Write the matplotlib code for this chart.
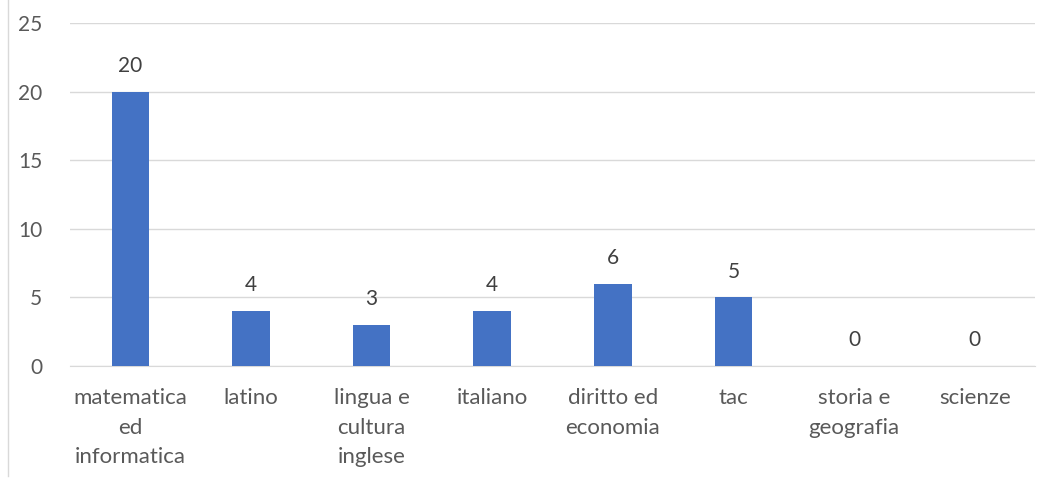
import matplotlib.pyplot as plt
import matplotlib.lines as mlines

plt.rcParams['font.family'] = ['Lato', 'DejaVu Sans']

categories = ['matematica\ned\ninformatica', 'latino', 'lingua e\ncultura\ninglese',
              'italiano', 'diritto ed\neconomia', 'tac', 'storia e\ngeografia', 'scienze']
values = [20, 4, 3, 4, 6, 5, 0, 0]
yticks = [0, 5, 10, 15, 20, 25]

fig = plt.figure(figsize=(10.5, 4.78), dpi=100)
ax = fig.add_axes([70 / 1050, 1 - 366 / 478, 965 / 1050, 343 / 478])

x = range(len(categories))
ax.bar(x, values, width=0.31, color='#4472C4', zorder=3)
for xi, v in zip(x, values):
    ax.text(xi, v + 1.15, str(v), ha='center', va='bottom', fontsize=15, color='#404040')

ax.set_xlim(-0.5, len(categories) - 0.5)
ax.set_ylim(0, 25)
ax.set_yticks(yticks)
ax.set_xticks(list(x))
ax.set_xticklabels(categories, fontsize=16, color='#595959', linespacing=1.6)
ax.tick_params(axis='y', labelsize=15, labelcolor='#595959', length=0, pad=20)
ax.tick_params(axis='x', length=0, pad=16)
ax.grid(axis='y', color='#D9D9D9', linewidth=1, zorder=0)
for s in ['top', 'right', 'left']:
    ax.spines[s].set_visible(False)
ax.spines['bottom'].set_color('#D9D9D9')

# left edge of the chart frame
fig.add_artist(mlines.Line2D([8 / 1050, 8 / 1050], [0.005, 1], color='#D9D9D9', linewidth=1))

fig.savefig('out.png', dpi=100)
